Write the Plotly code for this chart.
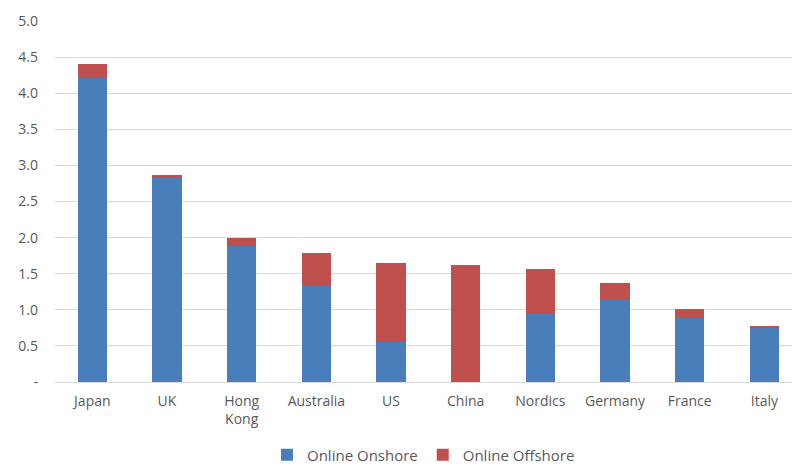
import plotly.graph_objects as go

# Online fund distribution by market
markets = ["Japan", "UK", "Hong<br>Kong", "Australia", "US", "China",
           "Nordics", "Germany", "France", "Italy"]
onshore = [4.21, 2.83, 1.88, 1.35, 0.55, 0.0, 0.94, 1.13, 0.89, 0.75]
offshore = [0.19, 0.04, 0.12, 0.44, 1.10, 1.62, 0.62, 0.24, 0.12, 0.03]

y_ticks = [0, 0.5, 1.0, 1.5, 2.0, 2.5, 3.0, 3.5, 4.0, 4.5, 5.0]
y_tick_text = ["-", "0.5", "1.0", "1.5", "2.0", "2.5", "3.0", "3.5", "4.0", "4.5", "5.0"]

BLUE = "#4a7ebb"
RED = "#c0504d"
TEXT = "#595959"
GRID = "#d9d9d9"
FONT = "'Open Sans', sans-serif"

fig = go.Figure()
fig.add_trace(go.Bar(name="Online Onshore", x=markets, y=onshore,
                     marker=dict(color=BLUE, line=dict(width=0)), width=0.39))
fig.add_trace(go.Bar(name="Online Offshore", x=markets, y=offshore,
                     marker=dict(color=RED, line=dict(width=0)), width=0.39))

fig.update_layout(
    barmode="stack",
    width=792, height=468,
    margin=dict(l=55, r=0, t=21, b=86, autoexpand=False),
    paper_bgcolor="white",
    plot_bgcolor="white",
    font=dict(family=FONT, size=14, color=TEXT),
    showlegend=True,
    legend=dict(orientation="h", x=0.5, xanchor="center",
                yref="container", y=0.028, yanchor="middle",
                font=dict(family=FONT, size=15, color=TEXT),
                itemwidth=30, traceorder="normal"),
    xaxis=dict(
        range=[-0.5, 9.37],
        showgrid=False,
        showline=True, linecolor=GRID, linewidth=1,
        ticks="", ticklabelstandoff=6,
        tickfont=dict(family=FONT, size=14, color=TEXT),
        fixedrange=True,
    ),
    yaxis=dict(
        range=[0, 5.0],
        tickvals=y_ticks, ticktext=y_tick_text,
        showgrid=True, gridcolor=GRID, gridwidth=1,
        zeroline=False, showline=False,
        ticks="", ticklabelstandoff=16,
        tickfont=dict(family=FONT, size=14, color=TEXT),
        fixedrange=True,
    ),
)

fig.write_html("out.html")
